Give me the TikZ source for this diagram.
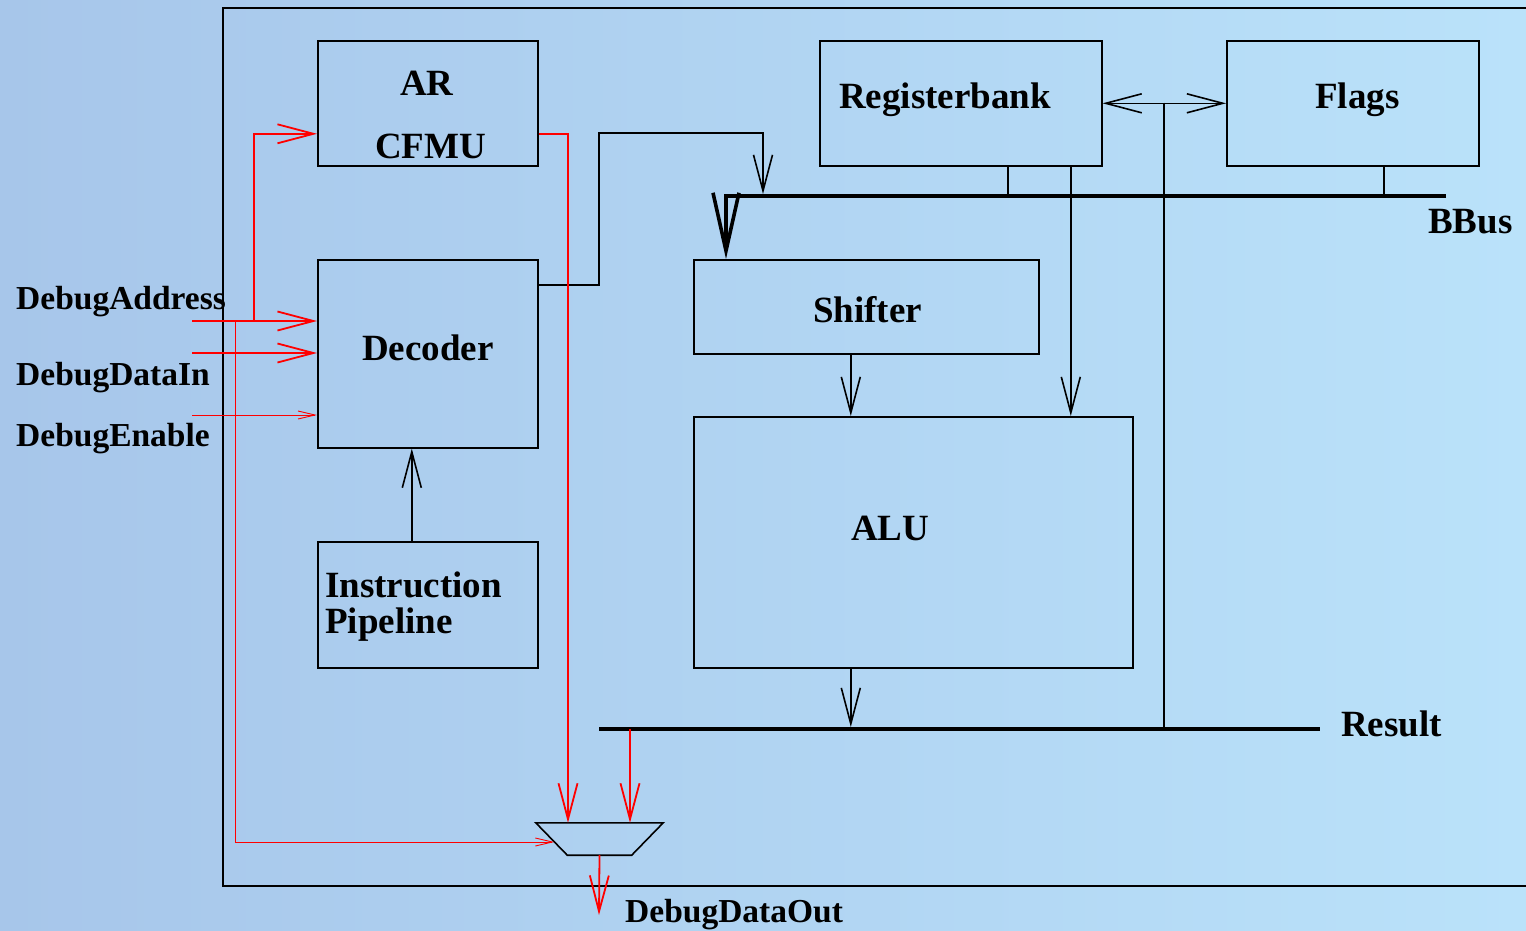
\documentclass[tikz,border=0pt]{standalone}
\usepackage{fontspec}
\setmainfont{Liberation Serif}
\usepackage{tikz}
\usetikzlibrary{arrows.meta}

\definecolor{bgleft}{RGB}{167,198,234}
\definecolor{bgright}{RGB}{186,226,250}

\begin{document}
\begin{tikzpicture}[
 x=1pt,y=-1pt,
 blk/.style={draw=black,line width=1.6pt,inner sep=0pt,anchor=north west},
 lbl/.style={anchor=base west,inner sep=0pt,font=\fontsize{37}{40}\selectfont\bfseries},
 sig/.style={anchor=base west,inner sep=0pt,font=\fontsize{33.5}{38}\selectfont\bfseries},
 ln/.style={line width=1.6pt},
 arr/.style={ln,-{Straight Barb[length=36pt,width=19pt]}},
 bus/.style={line width=3.6pt},
 redarr/.style={draw=red,line width=1.8pt,-{Straight Barb[length=36pt,width=19pt]}},
 thinarr/.style={draw=red,line width=0.9pt,-{Straight Barb[length=17pt,width=8pt]}}]
\useasboundingbox (0,0) rectangle (1526,930);
\clip (0,0) rectangle (1526,930);
\shade[left color=bgleft,right color=bgright] (0,0) rectangle (1526,930);
\draw[ln] (223,8) rectangle (1540,886);
% blocks
\node[blk,minimum width=220,minimum height=125] (cfmu) at (317,40) {};
\node[blk,minimum width=220,minimum height=188] (dec) at (317,259) {};
\node[blk,minimum width=220,minimum height=126] (ipipe) at (317,541) {};
\node[blk,minimum width=282,minimum height=125] (regs) at (819,40) {};
\node[blk,minimum width=252,minimum height=125] (flags) at (1226,40) {};
\node[blk,minimum width=345,minimum height=94] (shift) at (693,259) {};
\node[blk,minimum width=439,minimum height=251] (alu) at (693,416) {};
\node[inner sep=0pt,minimum width=127,minimum height=32] (mux) at (599.5,839) {};
\draw[ln] (mux.north west) -- (mux.north east) -- ([xshift=-31.5pt]mux.south east)
 -- ([xshift=31.5pt]mux.south west) -- cycle;
% block texts
\node[lbl] (artxt) at (400,95) {AR};
\node[lbl] (cfmutxt) at (375,158) {CFMU};
\node[lbl] (dectxt) at (362,360) {Decoder};
\node[lbl] (iptxt1) at (325,597) {Instruction};
\node[lbl] (iptxt2) at (325,633) {Pipeline};
\node[lbl] (regstxt) at (839,108) {Registerbank};
\node[lbl] (flagstxt) at (1315,108) {Flags};
\node[lbl] (shifttxt) at (813,322) {Shifter};
\node[lbl] (alutxt) at (851,540) {ALU};
\node[lbl] (bbustxt) at (1428,233) {BBus};
\node[lbl] (restxt) at (1341,736) {Result};
\node[sig] (addrtxt) at (16,309) {DebugAddress};
\node[sig] (datatxt) at (16,385) {DebugDataIn};
\node[sig] (entxt) at (16,446) {DebugEnable};
\node[sig] (outtxt) at (625,922) {DebugDataOut};
% buses
\coordinate (bbw) at (726,196);
\coordinate (bbe) at (1446,196);
\coordinate (resw) at (599,729);
\coordinate (rese) at (1320,729);
\coordinate (dectap) at (763,196);
\coordinate (flagtap) at (1164,102.5);
\draw[bus,-{Straight Barb[length=58pt,width=26pt]}] (bbe) -- (bbw) -- (bbw |- shift.north);
\draw[bus] (resw) -- (rese);
% black connections
\draw[arr] ([yshift=69pt]dec.east) -| (599,133) -| ([yshift=2pt]dectap);
\draw[ln] ([xshift=47pt]regs.south) -- ([xshift=47pt]regs.south |- bbe);
\draw[arr] ([xshift=110pt]regs.south) -- ([xshift=110pt]regs.south |- alu.north);
\draw[ln] ([xshift=31pt]flags.south) -- ([xshift=31pt]flags.south |- bbe);
\draw[ln,{Straight Barb[length=36pt,width=19pt]}-{Straight Barb[length=36pt,width=19pt]}]
 (regs.east) -- (flags.west);
\draw[ln] (flagtap) -- (flagtap |- resw);
\draw[arr] ([xshift=-15.5pt]shift.south) -- ([xshift=-15.5pt]shift.south |- alu.north);
\draw[arr] ([xshift=-62.5pt]alu.south) -- ([xshift=-62.5pt,yshift=2pt]alu.south |- resw);
\draw[arr] ([xshift=-16pt]ipipe.north) -- ([xshift=-16pt]dec.south);
% debug paths
\coordinate (addrin) at (192,321);
\coordinate (datain) at (192,353);
\coordinate (enin) at (192,415);
\coordinate (addrbr) at (254,321);
\coordinate (addrtap) at (235,321);
\coordinate (dout) at (599,915);
\draw[redarr] (addrin) -- (addrin -| dec.west);
\draw[redarr] (addrbr) |- ([yshift=-30.5pt]cfmu.west);
\draw[redarr] (datain) -- (datain -| dec.west);
\draw[thinarr] (enin) -- (enin -| dec.west);
\draw[thinarr] (addrtap) |- ([xshift=18.5pt,yshift=-3pt]mux.west);
\draw[redarr] ([yshift=-30.5pt]cfmu.east) -| ([xshift=-31.5pt]mux.north);
\draw[redarr] ([xshift=30.5pt]mux.north |- resw) -- ([xshift=30.5pt]mux.north);
\draw[redarr] (mux.south) -- (dout);
\end{tikzpicture}
\end{document}
